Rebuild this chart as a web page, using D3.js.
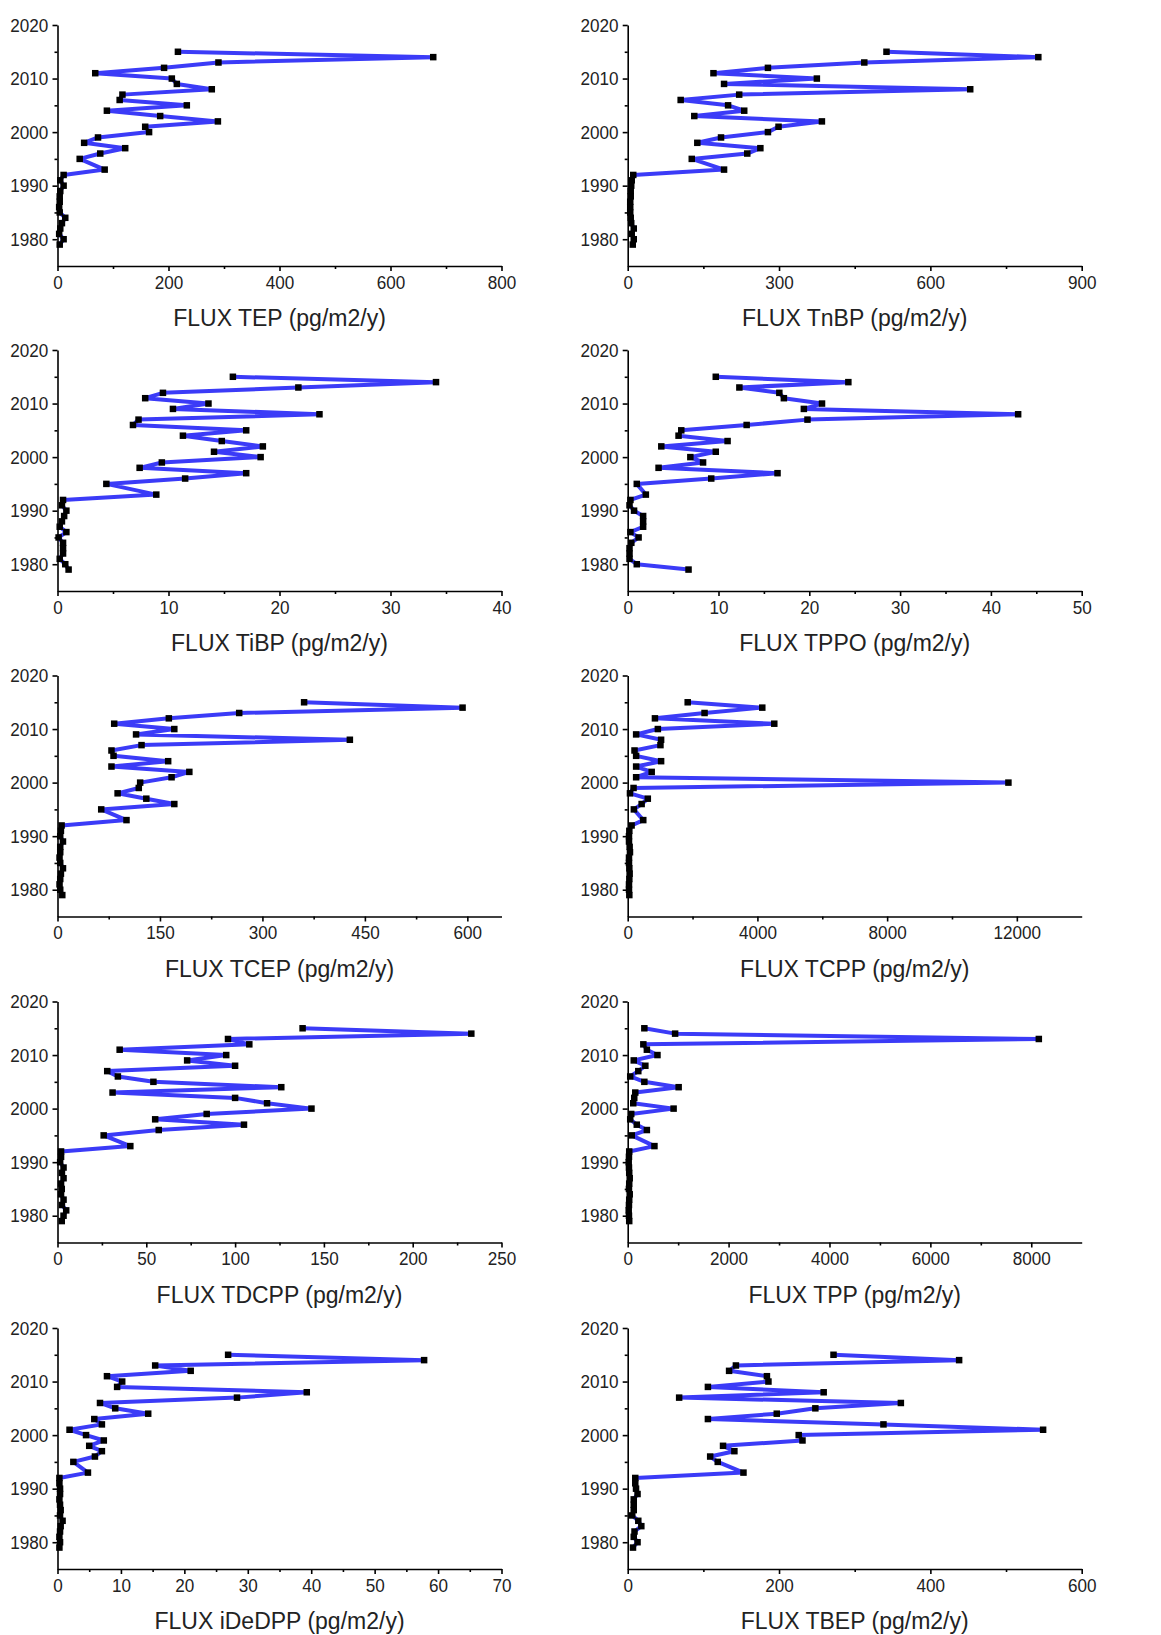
<!DOCTYPE html>
<html>
<head>
<meta charset="utf-8">
<script src="https://cdn.jsdelivr.net/npm/d3@7"></script>
<style>
  html, body { margin: 0; padding: 0; background: #fff; }
  svg { display: block; }
  .tick text { font-family: "Liberation Sans", Arial, sans-serif; font-size: 19px; fill: #222; }
  .axis path, .axis line { stroke: #000; stroke-width: 1.6; }
  .title { font-family: "Liberation Sans", Arial, sans-serif; font-size: 23px; fill: #222; }
</style>
</head>
<body>
<svg id="chart" width="1161" height="1635"></svg>
<script>
// Sampling years of the core slices (top to bottom), 1994 slice absent
const years = [2015, 2014, 2013, 2012, 2011, 2010, 2009, 2008, 2007, 2006, 2005,
               2004, 2003, 2002, 2001, 2000, 1999, 1998, 1997, 1996, 1995,
               1993, 1992, 1991, 1990, 1989, 1988, 1987, 1986, 1985, 1984,
               1983, 1982, 1981, 1980, 1979];

// Deposition fluxes, pg/m2/y, in the same order as `years`
const fluxTEP = [217, 677, 290, 192, 68, 206, 215, 278, 117, 112, 233, 89, 185, 289, 158, 165, 73, 48, 122, 77, 40,
                 85, 11, 5, 11, 5, 4, 4, 3, 4, 14, 8, 5, 3, 11, 4];
const fluxTnBP = [513, 814, 469, 278, 170, 375, 191, 679, 221, 105, 199, 231, 132, 385, 299, 278, 185, 138, 263, 237, 127,
                  191, 11, 8, 7, 6, 6, 5, 5, 5, 6, 7, 12, 8, 12, 10];
const fluxTiBP = [15.8, 34.1, 21.7, 9.5, 7.9, 13.6, 10.4, 23.6, 7.3, 6.8, 17.0, 11.3, 14.8, 18.5, 14.1, 18.3, 9.4, 7.4, 17.0, 11.5, 4.4,
                  8.9, 0.5, 0.4, 0.8, 0.6, 0.4, 0.2, 0.8, 0.1, 0.5, 0.5, 0.5, 0.2, 0.7, 1.0];
const fluxTPPO = [9.7, 24.3, 12.3, 16.7, 17.2, 21.4, 19.4, 43.0, 19.8, 13.1, 5.9, 5.6, 11.0, 3.7, 9.7, 6.9, 8.3, 3.4, 16.5, 9.2, 1.0,
                  2.0, 0.3, 0.2, 0.7, 1.7, 1.7, 1.7, 0.3, 1.2, 0.4, 0.2, 0.2, 0.2, 1.0, 6.7];
const fluxTCEP = [361, 593, 266, 163, 83, 171, 115, 428, 123, 79, 82, 162, 79, 193, 167, 121, 119, 88, 130, 171, 64,
                  101, 6, 5, 4, 8, 4, 4, 3, 4, 8, 5, 4, 3, 4, 7];
const fluxTCPP = [1850, 4150, 2370, 840, 4520, 930, 260, 1030, 1010, 210, 260, 1030, 260, 740, 260, 11740, 180, 70, 620, 430, 190,
                  480, 120, 50, 40, 40, 60, 70, 40, 40, 50, 60, 50, 40, 40, 50];
const fluxTDCPP = [138, 233, 96, 108, 35, 95, 73, 100, 28, 34, 54, 126, 31, 100, 118, 143, 84, 55, 105, 57, 26,
                   41, 2, 2, 1.5, 3.4, 2.5, 3.4, 2, 2.4, 2, 3.4, 2.5, 4.9, 3.4, 2.4];
const fluxTPP = [330, 940, 8150, 310, 380, 590, 120, 350, 210, 50, 330, 1010, 150, 130, 110, 910, 70, 50, 180, 380, 80,
                 530, 30, 25, 20, 25, 30, 40, 30, 25, 40, 30, 25, 20, 25, 30];
const fluxIDeDPP = [26.9, 57.8, 15.4, 21.0, 7.8, 10.2, 9.4, 39.3, 28.3, 6.7, 9.1, 14.3, 5.8, 7.0, 1.9, 4.5, 7.3, 5.0, 7.0, 5.9, 2.5,
                    4.8, 0.3, 0.3, 0.4, 0.4, 0.3, 0.4, 0.5, 0.4, 0.8, 0.5, 0.4, 0.3, 0.4, 0.3];
const fluxTBEP = [272, 438, 143, 134, 184, 186, 106, 259, 68, 361, 248, 197, 106, 338, 549, 226, 231, 126, 141, 109, 119,
                  153, 10, 10, 11, 13, 8, 8, 8, 6, 14, 18, 9, 8, 13, 7];

// Panel order: row by row, left then right
const compounds = ["TEP", "TnBP", "TiBP", "TPPO", "TCEP", "TCPP", "TDCPP", "TPP", "iDeDPP", "TBEP"];
const series = [fluxTEP, fluxTnBP, fluxTiBP, fluxTPPO, fluxTCEP, fluxTCPP, fluxTDCPP, fluxTPP, fluxIDeDPP, fluxTBEP];
const xMax = [800, 900, 40, 50, 650, 14000, 250, 9000, 70, 600];
const xMajorStep = [200, 300, 10, 10, 150, 4000, 50, 2000, 10, 200];
const xMinorStep = [100, 150, 5, 5, 75, 2000, 25, 1000, 5, 100];

// Year axis ticks
const yearMajorTicks = [1980, 1990, 2000, 2010, 2020];
const yearMinorTicks = [1985, 1995, 2005, 2015];
const yearDomain = [1975, 2020];

// Layout
const colLeft = [57.5, 627.7];
const colWidth = [444, 454];
const rowTop = [25, 350, 675.5, 1001.5, 1328];
const plotH = 241;
const lineColor = "#3b3bf7";
const markerSize = 6.5;
const labelScale = 0.9;

const svg = d3.select("#chart");

compounds.forEach((name, i) => {
  const col = i % 2, row = Math.floor(i / 2);
  const w = colWidth[col];
  const g = svg.append("g").attr("transform", `translate(${colLeft[col]},${rowTop[row]})`);

  const x = d3.scaleLinear().domain([0, xMax[i]]).range([0, w]);
  const y = d3.scaleLinear().domain(yearDomain).range([plotH, 0]);

  const eps = 1e-9;
  const majors = d3.range(0, xMax[i] + eps, xMajorStep[i]);
  const minors = d3.range(xMinorStep[i], xMax[i] - eps, xMinorStep[i])
    .filter(v => Math.abs(v / xMajorStep[i] - Math.round(v / xMajorStep[i])) > 1e-6);

  // Minor ticks first (no labels)
  g.append("g").attr("class", "axis")
    .attr("transform", `translate(0,${plotH})`)
    .call(d3.axisBottom(x).tickValues(minors).tickSize(3).tickSizeOuter(0).tickFormat(""))
    .call(a => a.select(".domain").remove());
  g.append("g").attr("class", "axis")
    .call(d3.axisLeft(y).tickValues(yearMinorTicks).tickSize(3).tickSizeOuter(0).tickFormat(""))
    .call(a => a.select(".domain").remove());

  // Major ticks with labels
  g.append("g").attr("class", "axis")
    .attr("transform", `translate(0,${plotH})`)
    .call(d3.axisBottom(x).tickValues(majors).tickSize(5).tickSizeOuter(0).tickFormat(d3.format("d")))
    .call(a => a.selectAll(".tick text")
      .attr("y", 9.5).attr("dy", "0.71em")
      .attr("transform", `scale(${labelScale},1)`));
  g.append("g").attr("class", "axis")
    .call(d3.axisLeft(y).tickValues(yearMajorTicks).tickSize(5).tickSizeOuter(0).tickFormat(d3.format("d")))
    .call(a => a.selectAll(".tick text")
      .attr("x", -10.3)
      .attr("transform", `scale(${labelScale},1)`));

  const pts = years.map((yr, k) => ({ yr, v: series[i][k] }));

  g.append("path")
    .datum(pts)
    .attr("fill", "none")
    .attr("stroke", lineColor)
    .attr("stroke-width", 4)
    .attr("stroke-linejoin", "round")
    .attr("d", d3.line().x(d => x(d.v)).y(d => y(d.yr)));

  g.selectAll("rect.marker")
    .data(pts)
    .join("rect")
    .attr("class", "marker")
    .attr("x", d => x(d.v) - markerSize / 2)
    .attr("y", d => y(d.yr) - markerSize / 2)
    .attr("width", markerSize)
    .attr("height", markerSize)
    .attr("fill", "#000");

  g.append("text")
    .attr("class", "title")
    .attr("x", w / 2)
    .attr("y", plotH + 60)
    .attr("text-anchor", "middle")
    .text(`FLUX ${name} (pg/m2/y)`);
});
</script>
</body>
</html>
